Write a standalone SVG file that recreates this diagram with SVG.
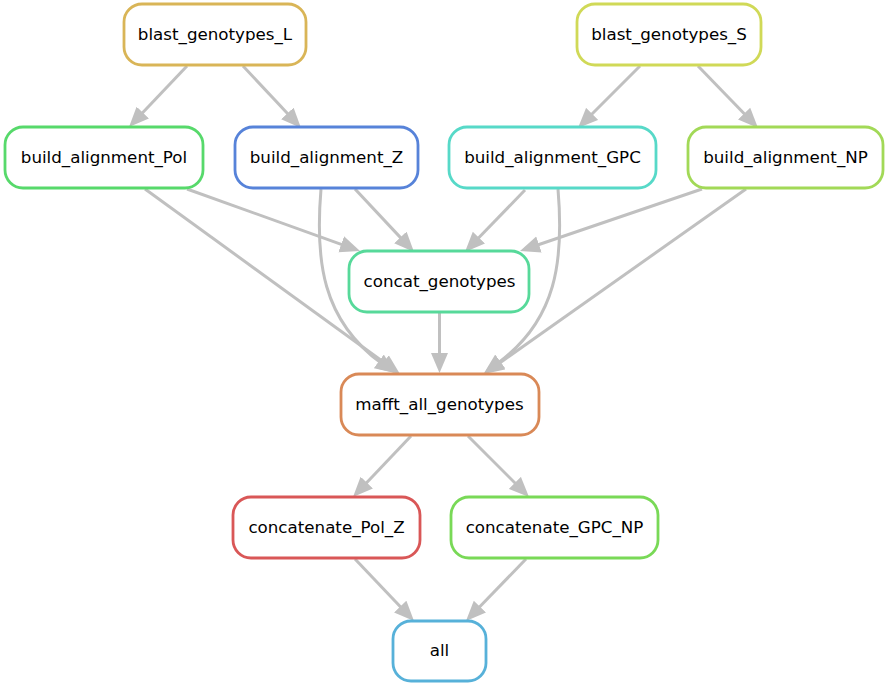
<svg xmlns="http://www.w3.org/2000/svg" width="887" height="686" viewBox="0 0 887 686">
<style>
.n rect{fill:#fff;stroke-width:2.8}
.n text{font-family:"DejaVu Sans",sans-serif;font-size:16.7px;text-anchor:middle;fill:#000}
.e path{fill:none;stroke:#c0c0c0;stroke-width:3}
</style>
<defs>
<marker id="a" markerUnits="userSpaceOnUse" markerWidth="21" markerHeight="18" refX="0" refY="0" orient="auto" viewBox="-3 -9 21 18"><path d="M-3,-8.5 L17,0 L-3,8.5 z" fill="#c0c0c0"/></marker>
</defs>
<rect width="887" height="686" fill="#fff"/>
<g class="e">
<path d="M187,66 L140.7,114.7" marker-end="url(#a)"/>
<path d="M243,66 L289.4,115.6" marker-end="url(#a)"/>
<path d="M640,66 L590,116" marker-end="url(#a)"/>
<path d="M698,66 L746.2,115.8" marker-end="url(#a)"/>
<path d="M187,189 L344,245.3" marker-end="url(#a)"/>
<path d="M145,189 L386.2,364" marker-end="url(#a)"/>
<path d="M355,189 L402.4,239.6" marker-end="url(#a)"/>
<path d="M321,189 C315,260 322,320 381.2,363.1" marker-end="url(#a)"/>
<path d="M525,190 L476.8,239.8" marker-end="url(#a)"/>
<path d="M558,189 C564,260 557,320 497.8,363.1" marker-end="url(#a)"/>
<path d="M702,189 L536.1,245.5" marker-end="url(#a)"/>
<path d="M746,189 L497.9,364.2" marker-end="url(#a)"/>
<path d="M439.5,313 L439.5,356" marker-end="url(#a)"/>
<path d="M411,436 L364.7,484.7" marker-end="url(#a)"/>
<path d="M468,436 L517,485" marker-end="url(#a)"/>
<path d="M355,559 L402.3,608.7" marker-end="url(#a)"/>
<path d="M526,559 L477.8,608.8" marker-end="url(#a)"/>
</g>
<g id="blast_genotypes_L" class="n"><rect x="124" y="4" width="182" height="61" rx="18" stroke="#d9b557"/><text x="215" y="40">blast_genotypes_L</text></g>
<g id="blast_genotypes_S" class="n"><rect x="577" y="4" width="184" height="61" rx="18" stroke="#d0d957"/><text x="669" y="40">blast_genotypes_S</text></g>
<g id="build_alignment_Pol" class="n"><rect x="5" y="127" width="198" height="61" rx="18" stroke="#57d96b"/><text x="104" y="163">build_alignment_Pol</text></g>
<g id="build_alignment_Z" class="n"><rect x="235" y="127" width="183" height="61" rx="18" stroke="#5783d9"/><text x="326.5" y="163">build_alignment_Z</text></g>
<g id="build_alignment_GPC" class="n"><rect x="449" y="127" width="207" height="61" rx="18" stroke="#57d9c8"/><text x="552.5" y="163">build_alignment_GPC</text></g>
<g id="build_alignment_NP" class="n"><rect x="688" y="127" width="195" height="61" rx="18" stroke="#a2d957"/><text x="785.5" y="163">build_alignment_NP</text></g>
<g id="concat_genotypes" class="n"><rect x="349" y="251" width="180" height="61" rx="18" stroke="#57d99a"/><text x="439.5" y="287">concat_genotypes</text></g>
<g id="mafft_all_genotypes" class="n"><rect x="341" y="374" width="198" height="61" rx="18" stroke="#d98957"/><text x="439.5" y="410">mafft_all_genotypes</text></g>
<g id="concatenate_Pol_Z" class="n"><rect x="233" y="497" width="187" height="61" rx="18" stroke="#d95757"/><text x="326.5" y="533">concatenate_Pol_Z</text></g>
<g id="concatenate_GPC_NP" class="n"><rect x="451" y="497" width="207" height="61" rx="18" stroke="#79d957"/><text x="554.5" y="533">concatenate_GPC_NP</text></g>
<g id="all" class="n"><rect x="393" y="621" width="93" height="60" rx="18" stroke="#57b1d9"/><text x="439.5" y="656">all</text></g>
</svg>
